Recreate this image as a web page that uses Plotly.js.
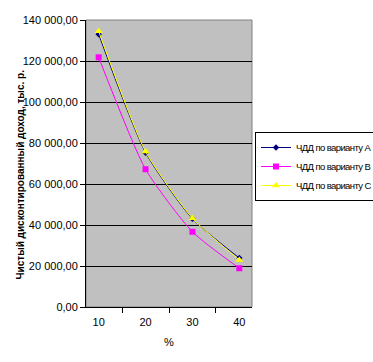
<!DOCTYPE html>
<html><head><meta charset="utf-8">
<script src="https://cdn.plot.ly/plotly-3.0.1.min.js"></script>
<style>html,body{margin:0;padding:0;background:#fff}#chart{width:373px;height:362px}
.legendtext{letter-spacing:-0.6px}</style>
</head><body><div id="chart"></div>
<script>
const categories = ['10', '20', '30', '40'];
const seriesA = [133000, 75300, 43000, 23900];
const seriesB = [121800, 67200, 36700, 18900];
const seriesC = [134500, 75800, 43300, 22900];
const seriesNames = ['ЧДД по варианту А', 'ЧДД по варианту В', 'ЧДД по варианту С'];
const yTicks = [0, 20000, 40000, 60000, 80000, 100000, 120000, 140000];
const yTitle = 'Чистый дисконтированный доход, тыс. р.';
const xTitle = '%';

const fam = 'Liberation Sans, Arial, sans-serif';
const font = {family: fam, size: 11, color: '#000'};
const mk = (y, name, color, symbol, size) => ({
  x: categories, y: y, name: name, type: 'scatter', mode: 'lines+markers',
  line: {color: color, width: 1, shape: 'spline', smoothing: 0.6},
  marker: {color: color, symbol: symbol, size: size}
});
const data = [
  mk(seriesA, seriesNames[0], '#000080', 'diamond', 5),
  mk(seriesB, seriesNames[1], '#FF00FF', 'square', 6),
  mk(seriesC, seriesNames[2], '#FFFF00', 'triangle-up', 7)
];
const layout = {
  width: 373, height: 362,
  margin: {l: 86, r: 121, t: 20, b: 55, autoexpand: false},
  paper_bgcolor: '#fff', plot_bgcolor: '#C0C0C0',
  separators: ', ',
  font: font,
  showlegend: true,
  legend: {xref: 'container', yref: 'container', x: 255/373, y: 1 - 132/362,
    xanchor: 'left', yanchor: 'top',
    bordercolor: '#000', borderwidth: 1, bgcolor: '#fff',
    font: {family: fam, size: 9.5, color: '#000'},
    itemwidth: 30, tracegroupgap: 0},
  xaxis: {type: 'category', tickson: 'boundaries', ticks: 'outside', ticklen: 5,
    tickcolor: '#000', showline: true, linecolor: '#000', linewidth: 1,
    ticklabelstandoff: 5,
    showgrid: false, zeroline: false, automargin: false,
    title: {text: xTitle, font: font, standoff: 11}},
  yaxis: {range: [0, 140000], tickvals: yTicks, tickformat: ',.2f',
    ticks: 'outside', ticklen: 5, tickcolor: '#000',
    showline: true, linecolor: '#000', linewidth: 1,
    showgrid: true, gridcolor: '#000', gridwidth: 1, zeroline: false,
    automargin: false},
  annotations: [{text: yTitle, textangle: -90, xref: 'paper', yref: 'paper',
    x: (20 - 86) / 166, y: (307 - 174.5) / 287, xanchor: 'center', yanchor: 'middle',
    showarrow: false,
    font: {family: fam, size: 10, color: '#000', weight: 'bold'}}],
  shapes: [{type: 'rect', xref: 'paper', yref: 'paper', x0: 0, x1: 1, y0: 0, y1: 1,
    line: {color: '#808080', width: 1}, layer: 'below', fillcolor: 'rgba(0,0,0,0)'}]
};
Plotly.newPlot('chart', data, layout, {displayModeBar: false, staticPlot: true});
</script></body></html>
